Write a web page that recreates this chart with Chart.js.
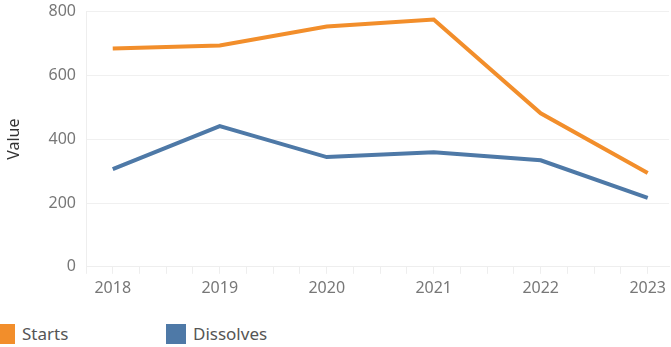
<!DOCTYPE html>
<html>
<head>
<meta charset="utf-8">
<script src="https://cdn.jsdelivr.net/npm/chart.js@4"></script>
<style>
  body { margin: 0; background: #fff; font-family: "Noto Sans", sans-serif; }
  #wrap { position: relative; width: 671px; height: 347px; overflow: hidden; }
  #box { position: absolute; left: 0; top: -8px; width: 671px; height: 311px; }
  .leg { position: absolute; top: 324px; font-size: 17px; color: #555; line-height: 20px; }
  .leg span { display: inline-block; width: 20px; height: 20px; vertical-align: top; margin-right: 7px; }
</style>
</head>
<body>
<div id="wrap">
  <div id="box"><canvas id="lineChart"></canvas></div>
  <div class="leg" style="left:-5px"><span style="background:#F28E2B"></span>Starts</div>
  <div class="leg" style="left:166px"><span style="background:#4E79A7"></span>Dissolves</div>
</div>
<script>
// dados
const years = [2018, 2019, 2020, 2021, 2022, 2023];
const starts = [684, 694, 753, 775, 481, 294];
const dissolves = [306, 441, 344, 359, 334, 216];
const yTicks = [0, 200, 400, 600, 800];

// marcas trimestrais no eixo x (só os anos têm texto)
const xTicks = [];
for (let q = 0; q <= 21; q++) xTicks.push(2017.75 + q * 0.25);

const ctx = document.getElementById("lineChart");

new Chart(ctx, {
  type: "line",
  data: {
    datasets: [
      {
        label: "Starts",
        data: years.map((y, i) => ({ x: y, y: starts[i] })),
        borderColor: "#F28E2B",
        borderWidth: 4,
        pointRadius: 0,
        tension: 0
      },
      {
        label: "Dissolves",
        data: years.map((y, i) => ({ x: y, y: dissolves[i] })),
        borderColor: "#4E79A7",
        borderWidth: 4,
        pointRadius: 0,
        tension: 0
      }
    ]
  },
  options: {
    responsive: true,
    maintainAspectRatio: false,
    animation: false,
    layout: { padding: { top: 1, right: 0, left: 0, bottom: 0 } },
    plugins: {
      legend: { display: false },
      tooltip: { enabled: false }
    },
    scales: {
      x: {
        type: "linear",
        min: 2017.75,
        max: 2023.2,
        afterBuildTicks: axis => { axis.ticks = xTicks.map(v => ({ value: v })); },
        ticks: {
          color: "#777",
          font: { family: "Noto Sans", size: 16 },
          padding: 5,
          autoSkip: false,
          maxRotation: 0,
          callback: v => Number.isInteger(v) ? String(v) : ""
        },
        grid: {
          drawOnChartArea: false,
          tickLength: 7,
          color: "#eee"
        },
        border: { color: "#eee" }
      },
      y: {
        min: 0,
        max: 800,
        afterBuildTicks: axis => { axis.ticks = yTicks.map(v => ({ value: v })); },
        afterFit: axis => { axis.width = 86; },
        title: {
          display: true,
          text: "Value",
          color: "#333",
          font: { family: "Noto Sans", size: 16 },
          padding: { top: 5, bottom: 0 }
        },
        ticks: {
          color: "#777",
          font: { family: "Noto Sans", size: 16 },
          padding: 10
        },
        grid: {
          color: "#f0f0f0",
          drawTicks: false
        },
        border: { color: "#eee" }
      }
    }
  }
});
</script>
</body>
</html>
